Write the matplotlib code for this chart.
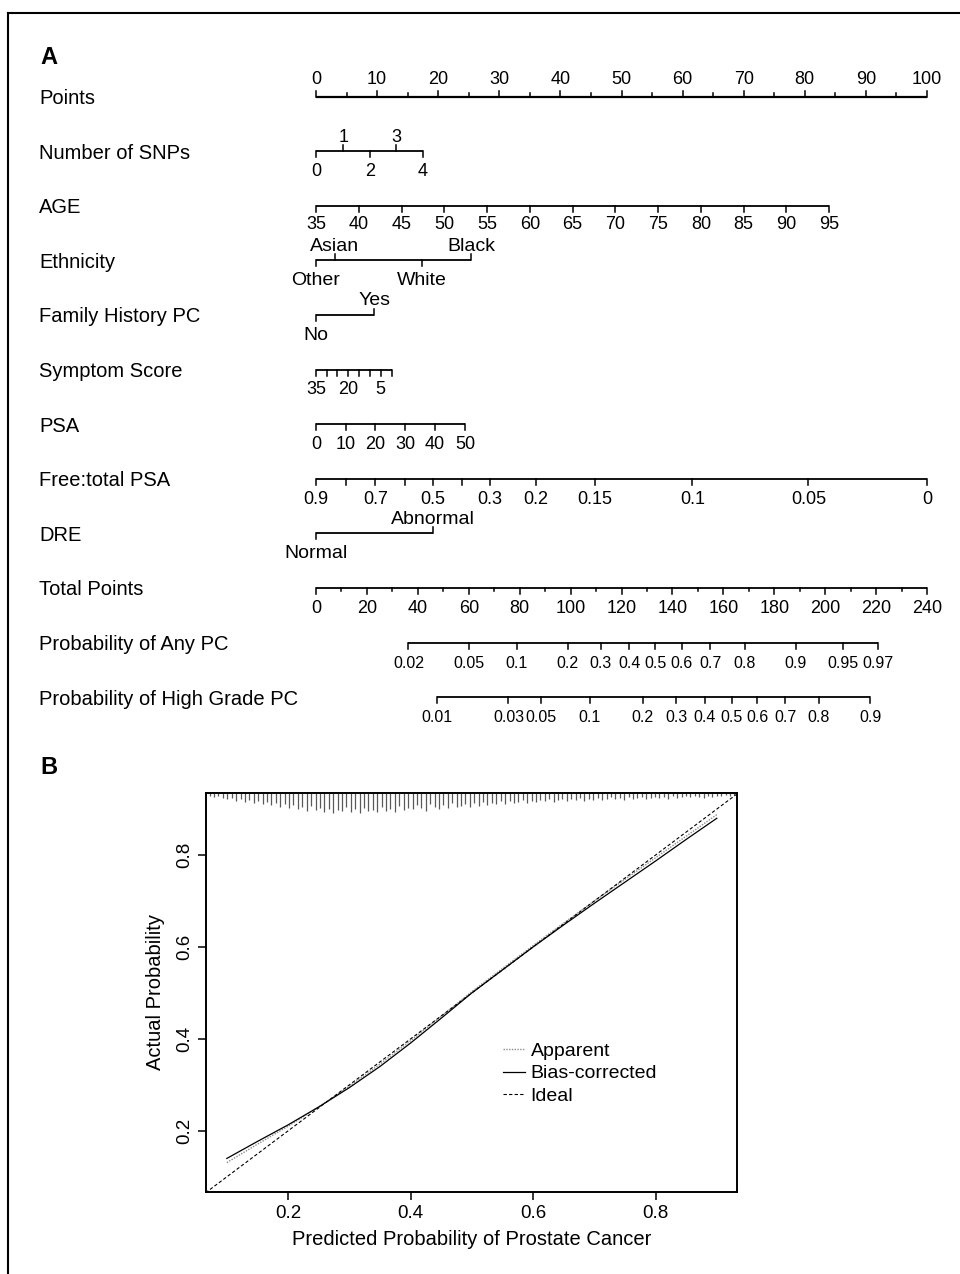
import numpy as np
import matplotlib
matplotlib.use("Agg")
import matplotlib.pyplot as plt
from matplotlib import font_manager
from matplotlib.lines import Line2D

# fonts: R-like Helvetica look, narrow face for the scale numbers if present
installed = {f.name for f in font_manager.fontManager.ttflist}
plt.rcParams['font.family'] = ['Liberation Sans', 'DejaVu Sans']
if 'Liberation Sans Narrow' in installed:
    NARROW = ['Liberation Sans Narrow', 'Liberation Sans']
    TICK_FS, PROB_FS = 14.5, 13
else:
    NARROW = ['Liberation Sans']
    TICK_FS, PROB_FS = 13, 11.5

# ---------------- nomogram data (panel A) ----------------
row_names = ["Points", "Number of SNPs", "AGE", "Ethnicity",
             "Family History PC", "Symptom Score", "PSA", "Free:total PSA",
             "DRE", "Total Points", "Probability of Any PC",
             "Probability of High Grade PC"]

points_major = [0, 10, 20, 30, 40, 50, 60, 70, 80, 90, 100]
points_minor = [5, 15, 25, 35, 45, 55, 65, 75, 85, 95]

snp_values = ["0", "1", "2", "3", "4"]
snp_points = [0, 4.5, 8.9, 13.1, 17.5]
snp_side = ["down", "up", "down", "up", "down"]

age_values = ["35", "40", "45", "50", "55", "60", "65", "70", "75", "80",
              "85", "90", "95"]
age_points = [0, 7.0, 14.0, 21.0, 28.0, 35.0, 42.0, 49.0, 56.0, 63.0, 70.0,
              77.0, 84.0]

eth_levels = ["Other", "Asian", "White", "Black"]
eth_points = [0, 3.1, 17.3, 25.4]
eth_side = ["down", "up", "down", "up"]

fam_levels = ["No", "Yes"]
fam_points = [0, 9.5]
fam_side = ["down", "up"]

sym_values = ["35", "30", "25", "20", "15", "10", "5", "0"]
sym_points = [0, 1.8, 3.5, 5.3, 7.1, 8.9, 10.6, 12.4]
sym_shown = ["35", "20", "5"]

psa_values = ["0", "10", "20", "30", "40", "50"]
psa_points = [0, 4.9, 9.7, 14.6, 19.5, 24.4]

ft_values = ["0.9", "0.8", "0.7", "0.6", "0.5", "0.4", "0.3", "0.2", "0.15",
             "0.1", "0.05", "0"]
ft_points = [0, 4.9, 9.7, 14.5, 19.1, 23.9, 28.5, 36.0, 45.7, 61.6, 80.6, 100]
ft_shown = ["0.9", "0.7", "0.5", "0.3", "0.2", "0.15", "0.1", "0.05", "0"]

dre_levels = ["Normal", "Abnormal"]
dre_points = [0, 19.1]
dre_side = ["down", "up"]

total_major = [0, 20, 40, 60, 80, 100, 120, 140, 160, 180, 200, 220, 240]
total_minor = [10, 30, 50, 70, 90, 110, 130, 150, 170, 190, 210, 230]

any_labels = ["0.02", "0.05", "0.1", "0.2", "0.3", "0.4", "0.5", "0.6",
              "0.7", "0.8", "0.9", "0.95", "0.97"]
any_total = [36.3, 60.1, 78.8, 98.9, 111.8, 123.1, 133.3, 143.7, 154.9,
             168.5, 188.5, 206.9, 220.8]

hg_labels = ["0.01", "0.03", "0.05", "0.1", "0.2", "0.3", "0.4", "0.5",
             "0.6", "0.7", "0.8", "0.9"]
hg_total = [47.5, 75.6, 88.4, 107.5, 128.3, 141.6, 152.8, 163.4, 173.4,
            184.3, 197.4, 217.8]

# ---------------- calibration data (panel B) ----------------
cal_pred = [0.10, 0.15, 0.20, 0.25, 0.30, 0.35, 0.40, 0.45, 0.50, 0.55, 0.60,
            0.65, 0.70, 0.75, 0.80, 0.85, 0.90]
bias_corrected = [0.140, 0.177, 0.213, 0.252, 0.294, 0.340, 0.391, 0.445,
                  0.500, 0.550, 0.600, 0.648, 0.695, 0.741, 0.787, 0.834,
                  0.880]
apparent = [0.131, 0.171, 0.210, 0.252, 0.297, 0.345, 0.396, 0.449, 0.503,
            0.553, 0.603, 0.652, 0.700, 0.747, 0.794, 0.841, 0.888]
ideal_x = [0, 1]
ideal_y = [0, 1]

# relative frequency of predictions (rug along the top), bins from 0.072
rug_start, rug_step = 0.072, 0.0072
rug_freq = [0.15, 0.2, 0.15, 0.25,
            0.3, 0.25, 0.4, 0.3, 0.45, 0.35, 0.5,
            0.4, 0.55, 0.45, 0.6, 0.5, 0.7, 0.55,
            0.75, 0.6, 0.8, 0.7, 0.9, 0.65, 0.85,
            0.75, 0.95, 0.8, 1.0, 0.85, 0.9, 0.7,
            0.95, 0.8, 1.0, 0.75, 0.9, 0.85, 0.95,
            0.7, 0.9, 0.8, 0.95, 0.65, 0.85, 0.75,
            0.8, 0.6, 0.75, 0.9, 0.55, 0.7, 0.8,
            0.6, 0.75, 0.5, 0.7, 0.65, 0.55, 0.7,
            0.5, 0.65, 0.45, 0.6, 0.5, 0.55, 0.4,
            0.55, 0.4, 0.5, 0.45, 0.35, 0.5, 0.4,
            0.45, 0.35, 0.4, 0.3, 0.45, 0.35, 0.3,
            0.4, 0.3, 0.35, 0.25, 0.4, 0.3, 0.35,
            0.25, 0.35, 0.3, 0.2, 0.3, 0.25, 0.35,
            0.2, 0.3, 0.25, 0.2, 0.3, 0.25, 0.2,
            0.25, 0.2, 0.3, 0.15, 0.25, 0.2, 0.15,
            0.2, 0.15, 0.2, 0.25, 0.15, 0.2, 0.15,
            0.15, 0.1, 0.15, 0.1]

# ---------------- layout ----------------
W, H = 960, 1274
PX0, PX_PER_PT = 316, 6.11      # x pixel of 0 points, pixels per point
ROW0, ROW_PX = 96.5, 54.6       # y pixel of first row, pixels per row
PX = 1 / ROW_PX                 # one pixel in row units
TOTAL_TO_PTS = 100 / 240

fig = plt.figure(figsize=(W / 100, H / 100), dpi=100)
ax = fig.add_axes([0, 0, 1, 1])
ax.set_axis_off()
ax.set_xlim(-PX0 / PX_PER_PT, (W - PX0) / PX_PER_PT)
ax.set_ylim((H - ROW0) / ROW_PX, -ROW0 / ROW_PX)


def scale(row, pts, labels, side=None, shown=None, minor=None, fs=TICK_FS,
          lw=1.3, below_gap=12, above_gap=5.5):
    """draws one nomogram axis: a line, ticks and their labels"""
    if side is None:
        side = ["down"] * len(pts)
    ax.plot([min(pts), max(pts)], [row, row], color="k", lw=lw,
            solid_capstyle="butt")
    for p, lab, s in zip(pts, labels, side):
        d = -1 if s == "up" else 1
        ax.plot([p, p], [row, row + d * 6 * PX], color="k", lw=1.1)
        if shown is not None and lab not in shown:
            continue
        if s == "up":
            ax.text(p, row - above_gap * PX, lab, ha="center", va="bottom",
                    fontsize=fs, family=NARROW)
        else:
            ax.text(p, row + below_gap * PX, lab, ha="center", va="top",
                    fontsize=fs, family=NARROW)
    if minor is not None:
        d = -1 if side[0] == "up" else 1
        for p in minor:
            ax.plot([p, p], [row, row + d * 3.5 * PX], color="k", lw=1.1)


# row titles
for i, name in enumerate(row_names):
    ax.text(39 / W, i + 2 * PX, name, transform=ax.get_yaxis_transform(),
            ha="left", va="center", fontsize=14.5)

scale(0, points_major, [str(v) for v in points_major],
      side=["up"] * len(points_major), minor=points_minor, lw=1.6,
      above_gap=8)
scale(1, snp_points, snp_values, side=snp_side)
scale(2, age_points, age_values, below_gap=10)
scale(3, eth_points, eth_levels, side=eth_side, fs=14)
scale(4, fam_points, fam_levels, side=fam_side, fs=14)
scale(5, sym_points, sym_values, shown=sym_shown)
scale(6, psa_points, psa_values)
scale(7, ft_points, ft_values, shown=ft_shown)
scale(8, dre_points, dre_levels, side=dre_side, fs=14)
scale(9, [v * TOTAL_TO_PTS for v in total_major],
      [str(v) for v in total_major],
      minor=[v * TOTAL_TO_PTS for v in total_minor])
scale(10, [v * TOTAL_TO_PTS for v in any_total], any_labels, fs=PROB_FS,
      below_gap=13)
scale(11, [v * TOTAL_TO_PTS for v in hg_total], hg_labels, fs=PROB_FS,
      below_gap=13)

# panel letters and the frame around the figure
fig.text(40 / W, 1 - 57 / H, "A", fontsize=17, fontweight="bold",
         ha="left", va="center")
fig.text(40 / W, 1 - 768 / H, "B", fontsize=17, fontweight="bold",
         ha="left", va="center")
fig.add_artist(Line2D([8 / W, 8 / W], [0, 1 - 13 / H], color="k", lw=1.5))
fig.add_artist(Line2D([8 / W, 1], [1 - 13 / H, 1 - 13 / H], color="k",
                      lw=1.5))

# ---------------- panel B: calibration ----------------
bx = fig.add_axes([206 / W, (H - 1192) / H, 531 / W, 399 / H])
bx.set_xlim(0.066, 0.933)
bx.set_ylim(0.067, 0.935)

rug_x = rug_start + rug_step * np.arange(len(rug_freq))
bx.vlines(rug_x, 1 - 0.05 * np.array(rug_freq), 1,
          transform=bx.get_xaxis_transform(), color="0.35", lw=0.9)

bx.plot(cal_pred, apparent, color="0.55", lw=1.0, ls=(0, (1, 1)),
        label="Apparent")
bx.plot(cal_pred, bias_corrected, color="k", lw=0.9, label="Bias-corrected")
bx.plot(ideal_x, ideal_y, color="k", lw=0.8, ls=(0, (3, 2)), label="Ideal")

bx.set_xticks([0.2, 0.4, 0.6, 0.8])
bx.set_yticks([0.2, 0.4, 0.6, 0.8])
bx.set_xticklabels(["0.2", "0.4", "0.6", "0.8"])
bx.set_yticklabels(["0.2", "0.4", "0.6", "0.8"])
bx.tick_params(direction="out", length=6, width=1.1, labelsize=13.5, pad=3)
bx.tick_params(axis="y", labelrotation=90)
for lab in bx.get_yticklabels():
    lab.set_va("center")
for sp in bx.spines.values():
    sp.set_linewidth(1.4)

bx.set_xlabel("Predicted Probability of Prostate Cancer", fontsize=14.5,
              labelpad=6)
bx.set_ylabel("Actual Probability", fontsize=14.5, labelpad=8)

bx.legend(loc="upper left", bbox_to_anchor=(0.56, 0.375), frameon=False,
          fontsize=14, handlelength=1.1, handletextpad=0.3,
          labelspacing=0.25, borderaxespad=0, borderpad=0)

fig.savefig("out.png", dpi=100)
